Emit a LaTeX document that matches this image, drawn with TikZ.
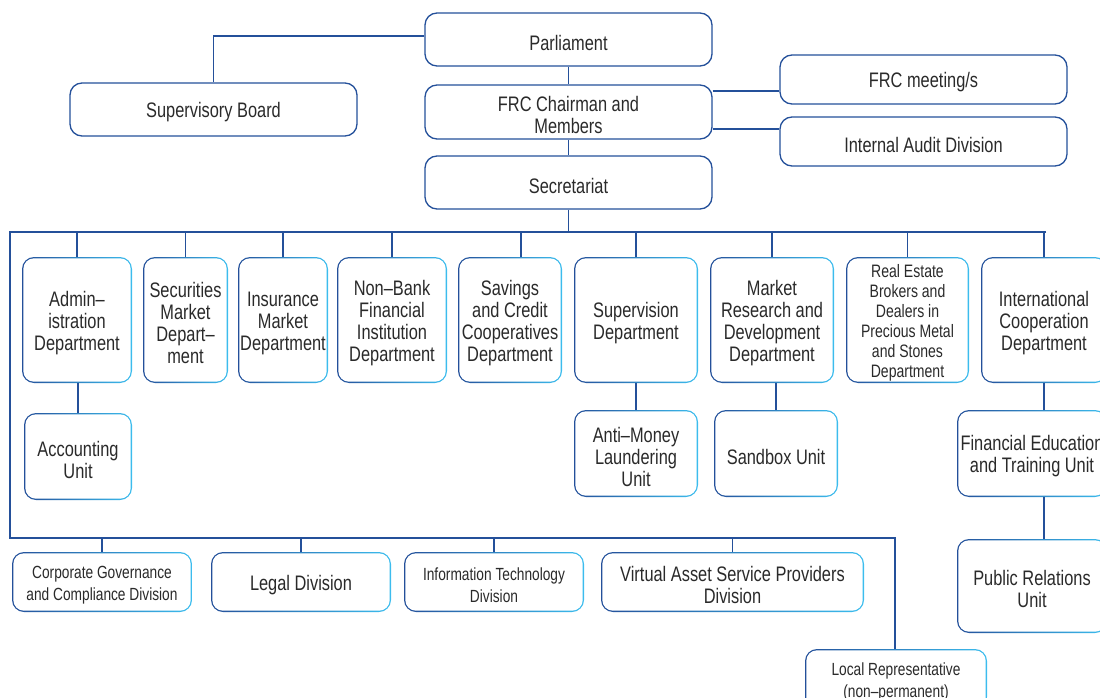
\documentclass[tikz,border=0pt]{standalone}
\usepackage{fontspec}
\setmainfont{Liberation Sans}[FakeStretch=0.78]
\definecolor{dk}{HTML}{24509A}
\definecolor{cy}{HTML}{3CBDEE}
\definecolor{txt}{HTML}{2A2A2A}
\newcommand\fs[2]{\fontsize{#1}{#2}\selectfont}
\newcommand\mkbox[8]{%
  \node[#1, minimum width={#4-#2}, minimum height={#5-#3}] (#6) at ({(#2+#4)/2},{(#3+#5)/2}) {};
  \node[label text, #8] (#6t) at ([yshift=-3pt]#6.center) {#7};}
\tikzset{
  base/.style={rounded corners=12pt, inner sep=0pt},
  label text/.style={inner sep=0pt, align=center, text=txt, font=\fs{21}{22}},
  topbox/.style={base, draw=dk, line width=1.3pt},
  gbox/.style={base, path picture={
      \shade[left color=dk, right color=cy] (path picture bounding box.south west) rectangle (path picture bounding box.north east);
      \fill[white, rounded corners=10.7pt] ([shift={(1.3pt,1.3pt)}]path picture bounding box.south west) rectangle ([shift={(-1.3pt,-1.3pt)}]path picture bounding box.north east);
  }},
  normal/.style={},
  small/.style={font=\fs{17.6}{22}},
  mid/.style={font=\fs{18}{20}},
  link/.style={draw=dk, line width=1.3pt},
}
\begin{document}
\begin{tikzpicture}[x=1pt,y=-1pt]
\useasboundingbox (0,0) rectangle (1100,698);
\clip (0,0) rectangle (1100,698);
% top level
\mkbox{topbox}{425}{13}{712}{66}{P}{Parliament}{normal}
\mkbox{topbox}{70}{83}{357}{136}{SB}{Supervisory Board}{normal}
\mkbox{topbox}{425}{85}{712}{139}{CH}{FRC Chairman and\\Members}{normal}
\mkbox{topbox}{780}{55}{1067}{104}{FM}{FRC meeting/s}{normal}
\mkbox{topbox}{780}{117}{1067}{166}{IA}{Internal Audit Division}{normal}
\mkbox{topbox}{425}{156}{712}{209}{SEC}{Secretariat}{normal}
% departments
\mkbox{gbox}{22}{257}{132}{383}{ADM}{Admin–\\istration\\Department}{normal}
\mkbox{gbox}{143}{257}{228}{383}{SMD}{Securities\\Market\\Depart–\\ment}{normal}
\mkbox{gbox}{238}{257}{328}{383}{INS}{Insurance\\Market\\Department}{normal}
\mkbox{gbox}{337}{257}{447}{383}{NBF}{Non–Bank\\Financial\\Institution\\Department}{normal}
\mkbox{gbox}{458}{257}{562}{383}{SAV}{Savings\\and Credit\\Cooperatives\\Department}{normal}
\mkbox{gbox}{574}{257}{698}{383}{SUP}{Supervision\\Department}{normal}
\mkbox{gbox}{710}{257}{834}{383}{MRD}{Market\\Research and\\Development\\Department}{normal}
\mkbox{gbox}{846}{257}{969}{383}{RE}{Real Estate\\Brokers and\\Dealers in\\Precious Metal\\and Stones\\Department}{mid}
\mkbox{gbox}{981}{257}{1107}{383}{INT}{International\\Cooperation\\Department}{normal}
% second row
\mkbox{gbox}{24}{413}{132}{500}{ACC}{Accounting\\Unit}{normal}
\mkbox{gbox}{574}{410}{698}{497}{AML}{Anti–Money\\Laundering\\Unit}{normal}
\mkbox{gbox}{714}{410}{838}{497}{SBX}{Sandbox Unit}{normal}
\mkbox{gbox}{957}{410}{1107}{497}{FED}{Financial Education\\and Training Unit}{normal}
\mkbox{gbox}{957}{539}{1107}{633}{PR}{Public Relations\\Unit}{normal}
% bottom row
\mkbox{gbox}{12}{552}{192}{612}{CG}{Corporate Governance\\and Compliance Division}{small}
\mkbox{gbox}{211}{552}{391}{612}{LEG}{Legal Division}{normal}
\mkbox{gbox}{404}{552}{584}{612}{IT}{Information Technology\\Division}{small}
\mkbox{gbox}{601}{552}{864}{612}{VASP}{Virtual Asset Service Providers\\Division}{normal}
\mkbox{gbox}{805}{649}{987}{709}{LR}{Local Representative\\(non–permanent)}{small}
% bus coordinates
\coordinate (busL) at (10,232);
\coordinate (busR) at (1046,232);
\coordinate (lowL) at (10,538);
\coordinate (lowR) at (895,538);
% top connectors
\draw[link] ([yshift=3.5pt]P.west) -| (SB.north);
\draw[link] (P.south) -- (CH.north);
\coordinate (c1) at ([yshift=21pt]CH.east);
\coordinate (c2) at ([yshift=-17pt]CH.east);
\draw[link] (c1) -- (FM.west |- c1);
\draw[link] (c2) -- (IA.west |- c2);
\draw[link] (CH.south) -- (SEC.north);
\draw[link] (SEC.south) -- (SEC.south |- busR);
\draw[link] (busR) -- (busL) -- (lowL) -- (lowR) -- (LR.north -| lowR);
% department drops
\foreach \n in {ADM,SMD,INS,NBF,SUP,MRD,RE,INT}
  \draw[link] (\n.north) -- (\n.north |- busL);
\draw[link] ([xshift=11pt]SAV.north) -- ([xshift=11pt]SAV.north |- busL);
\foreach \n in {CG,LEG,IT,VASP}
  \draw[link] (\n.north) -- (\n.north |- lowL);
% sub connectors
\draw[link] (ACC.north |- ADM.south) -- (ACC.north);
\draw[link] (SUP.south) -- (AML.north);
\draw[link] (SBX.north |- MRD.south) -- (SBX.north);
\draw[link] (INT.south) -- (INT.south |- FED.north);
\draw[link] (FED.south -| INT.south) -- (PR.north -| INT.south);
\end{tikzpicture}
\end{document}
